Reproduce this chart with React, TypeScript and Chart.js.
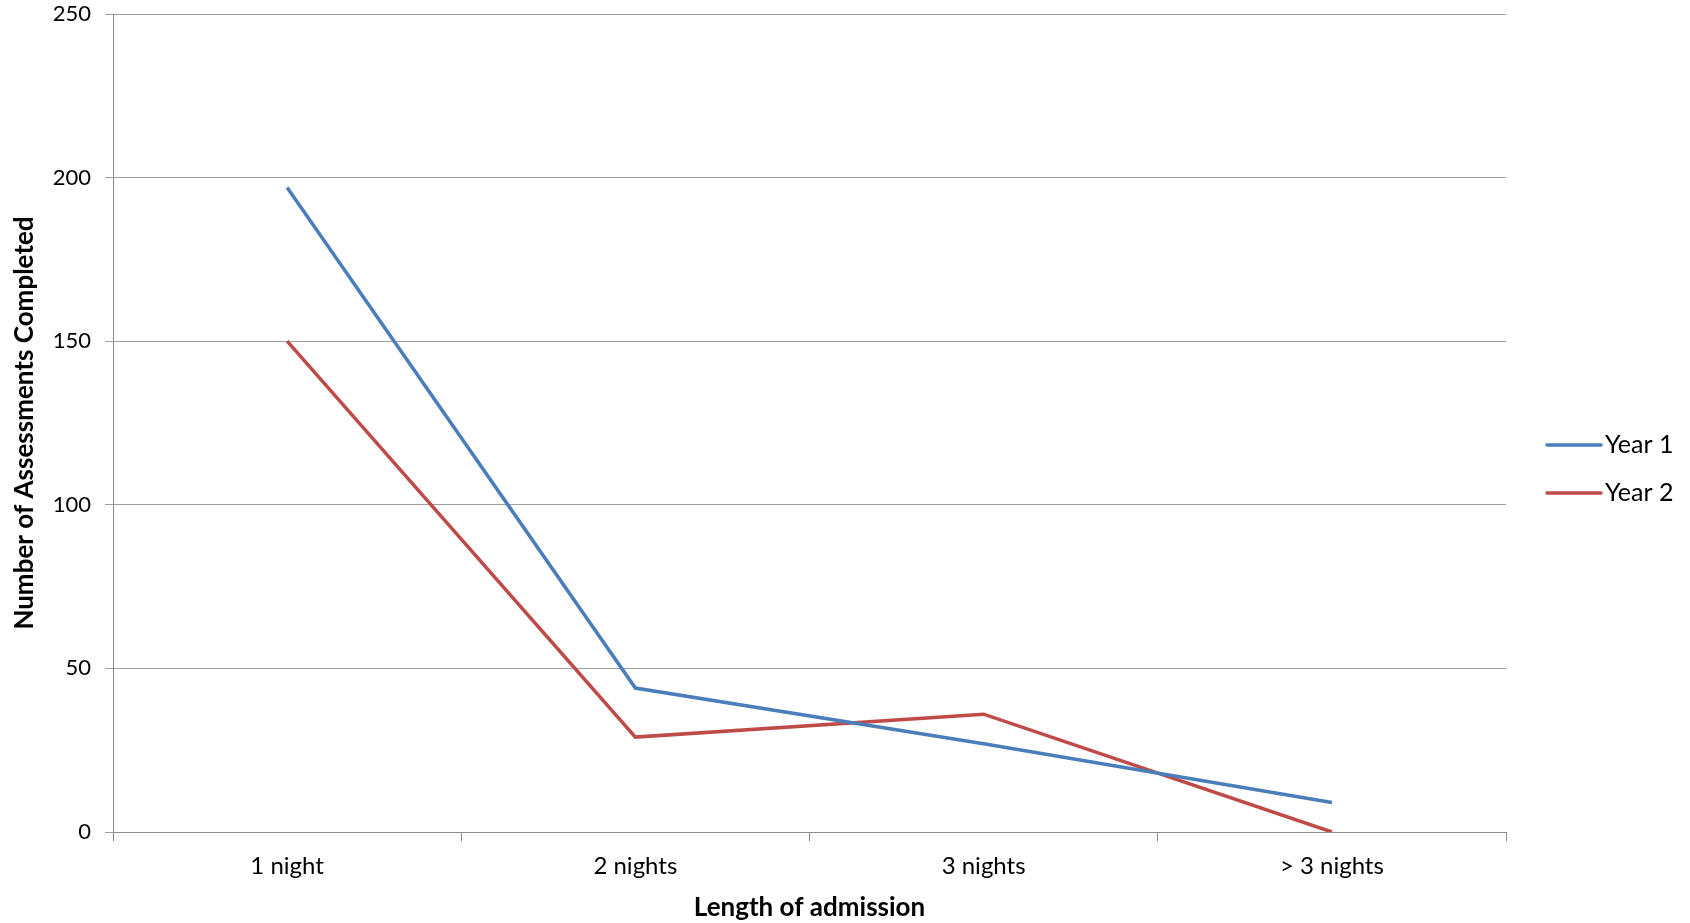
import React, { useEffect, useRef } from "react";
import { Chart, registerables } from "chart.js";

Chart.register(...registerables);

const categories = ["1 night", "2 nights", "3 nights", "> 3 nights"];
const year1 = [197, 44, 27, 9];
const year2 = [150, 29, 36, 0];
const seriesNames = ["Year 1", "Year 2"];
const seriesColors = ["#4A7EBB", "#BE4B48"];
const yTitle = "Number of Assessments Completed";
const xTitle = "Length of admission";

const FONT = "Lato, 'Open Sans', sans-serif";

const legendPlugin = {
  id: "customLegend",
  afterDraw(chart: any) {
    const { ctx, chartArea } = chart;
    const x0 = chartArea.right + 41;
    const cy = (chartArea.top + chartArea.bottom) / 2 + 46;
    const gap = 48;
    chart.data.datasets.forEach((ds: any, i: number) => {
      const y = cy + (i - 0.5) * gap;
      ctx.save();
      ctx.strokeStyle = ds.borderColor;
      ctx.lineWidth = 3.5;
      ctx.lineCap = "round";
      ctx.beginPath();
      ctx.moveTo(x0, y);
      ctx.lineTo(x0 + 54, y);
      ctx.stroke();
      ctx.fillStyle = "#000";
      ctx.font = `25px ${FONT}`;
      ctx.textBaseline = "middle";
      ctx.textAlign = "left";
      ctx.fillText(ds.label, x0 + 58, y);
      ctx.restore();
    });
  },
};

export default function App() {
  const ref = useRef<HTMLCanvasElement | null>(null);
  useEffect(() => {
    if (!ref.current) return;
    const chart = new Chart(ref.current, {
      type: "line",
      data: {
        labels: categories,
        datasets: [
          {
            label: seriesNames[0],
            data: year1,
            borderColor: seriesColors[0],
            backgroundColor: seriesColors[0],
            borderWidth: 3.5,
            pointRadius: 0,
            tension: 0,
          },
          {
            label: seriesNames[1],
            data: year2,
            borderColor: seriesColors[1],
            backgroundColor: seriesColors[1],
            borderWidth: 3.5,
            pointRadius: 0,
            tension: 0,
          },
        ],
      },
      options: {
        animation: false,
        responsive: false,
        maintainAspectRatio: false,
        layout: { padding: { top: 14, right: 184, left: 0, bottom: 0 } },
        plugins: {
          legend: { display: false },
          tooltip: { enabled: false },
        },
        scales: {
          x: {
            offset: true,
            grid: {
              offset: true,
              drawOnChartArea: false,
              drawTicks: true,
              tickLength: 9,
              color: "#8c8c8c",
              lineWidth: 1,
            },
            border: { display: true, color: "#8c8c8c", width: 1 },
            ticks: {
              color: "#000",
              font: { family: FONT, size: 24 },
              padding: 11,
              maxRotation: 0,
            },
            title: {
              display: true,
              text: xTitle,
              color: "#000",
              font: { family: FONT, size: 26, weight: "bold" },
              padding: { top: 3, bottom: 0 },
            },
            afterFit: (scale: any) => {
              scale.height = 91;
            },
          },
          y: {
            min: 0,
            max: 250,
            ticks: {
              stepSize: 50,
              color: "#000",
              font: { family: FONT, size: 22 },
              padding: 14,
            },
            grid: {
              color: "#a0a0a0",
              lineWidth: 1,
              drawTicks: true,
              tickLength: 8,
            },
            border: { display: true, color: "#8c8c8c", width: 1 },
            title: {
              display: true,
              text: yTitle,
              color: "#000",
              font: { family: FONT, size: 26, weight: "bold" },
              padding: { top: 9, bottom: 0 },
            },
            afterFit: (scale: any) => {
              scale.width = 113;
              scale.paddingTop = 0;
              scale.paddingBottom = 0;
            },
          },
        },
      },
      plugins: [legendPlugin],
    });
    return () => chart.destroy();
  }, []);
  return (
    <div style={{ position: "absolute", left: 0, top: 0, width: 1690, height: 923, background: "#fff" }}>
      <canvas ref={ref} width={1690} height={923} style={{ display: "block" }} />
    </div>
  );
}
